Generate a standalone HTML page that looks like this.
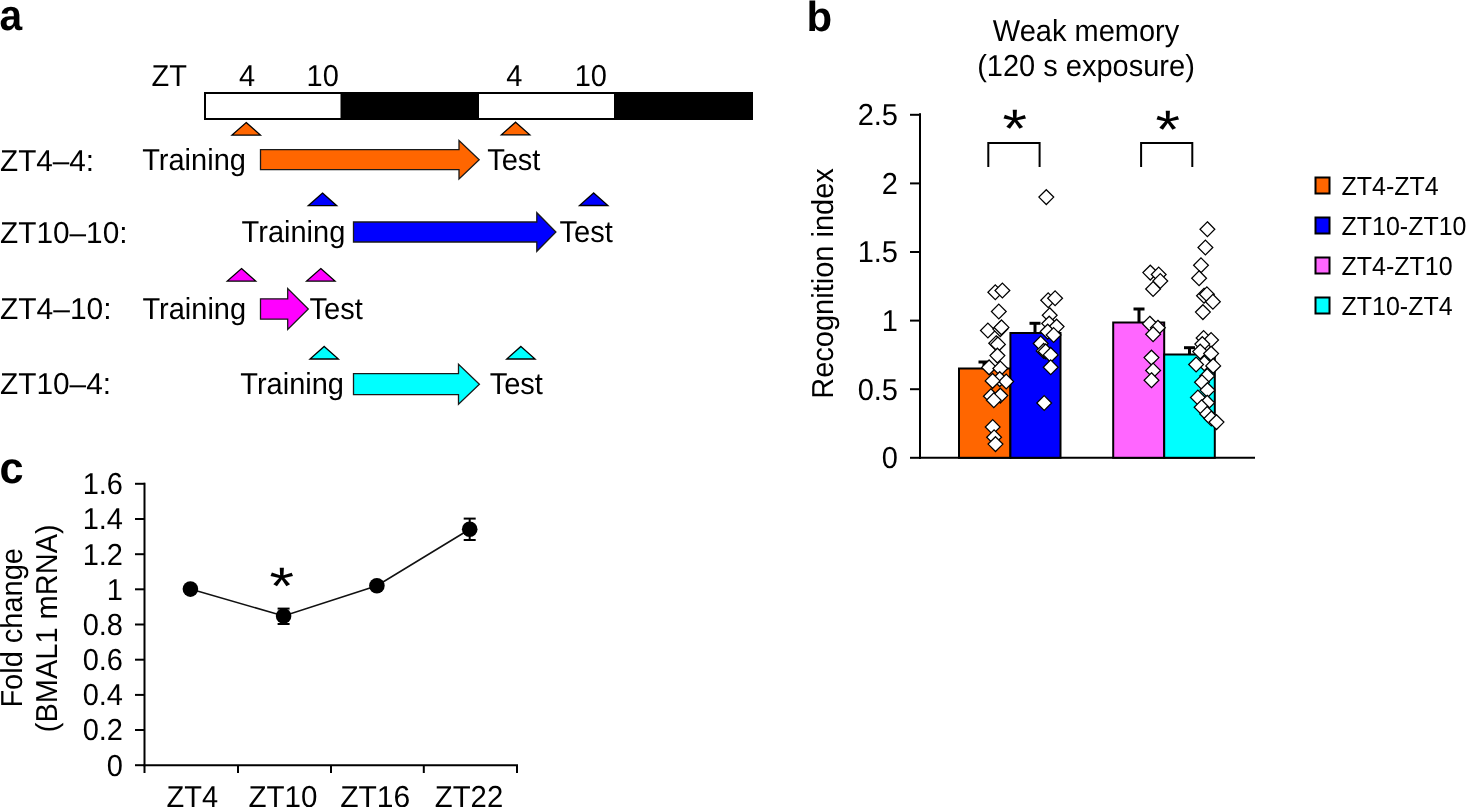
<!DOCTYPE html><html><head><meta charset="utf-8"><style>html,body{margin:0;padding:0;background:#fff;width:1466px;height:807px;overflow:hidden}svg{display:block;will-change:transform}</style></head><body>
<svg width="1466" height="807" viewBox="0 0 1466 807" style="font-family:'Liberation Sans',sans-serif;text-rendering:geometricPrecision">
<text transform="translate(-0.6,30.2) scale(0.97,1.03)" font-size="42" font-weight="bold">a</text>
<text transform="translate(151.6,86) scale(1.0,1.045)" font-size="29" >ZT</text>
<text transform="translate(239,86) scale(1.0,1.045)" font-size="29" >4</text>
<text transform="translate(306.5,86) scale(1.0,1.045)" font-size="29" >10</text>
<text transform="translate(506.2,86) scale(1.0,1.045)" font-size="29" >4</text>
<text transform="translate(574.7,86) scale(1.0,1.045)" font-size="29" >10</text>
<rect x="205" y="93" width="547" height="26" fill="#000" stroke="#000" stroke-width="2"/>
<rect x="205" y="93" width="136.5" height="26" fill="#fff" stroke="#000" stroke-width="2"/>
<rect x="478" y="93" width="137" height="26" fill="#fff" stroke="#000" stroke-width="2"/>
<polygon points="246.2,122.5 260.4,135.1 232.0,135.1" fill="#ff6600" stroke="#000" stroke-width="1.3" stroke-linejoin="miter"/>
<polygon points="515.6,122.2 529.8,134.8 501.4,134.8" fill="#ff6600" stroke="#000" stroke-width="1.3" stroke-linejoin="miter"/>
<text transform="translate(0,171) scale(1.024,1.045)" font-size="29" >ZT4–4:</text>
<text transform="translate(142.2,170) scale(1.0,1.045)" font-size="29" >Training</text>
<text transform="translate(487.2,170) scale(1.0,1.045)" font-size="29" >Test</text>
<polygon points="260.5,149.7 459.0,149.7 459.0,140.5 479.2,159.7 459.0,178.9 459.0,169.7 260.5,169.7" fill="#ff6600" stroke="#1a1a1a" stroke-width="1.3" stroke-linejoin="miter"/>
<polygon points="322.5,193.1 336.7,205.7 308.3,205.7" fill="#0000ff" stroke="#000" stroke-width="1.3" stroke-linejoin="miter"/>
<polygon points="593.7,192.9 607.9,205.5 579.5,205.5" fill="#0000ff" stroke="#000" stroke-width="1.3" stroke-linejoin="miter"/>
<text transform="translate(0,242.5) scale(1.027,1.045)" font-size="29" >ZT10–10:</text>
<text transform="translate(241.6,242) scale(1.0,1.045)" font-size="29" >Training</text>
<text transform="translate(559.6,242) scale(1.0,1.045)" font-size="29" >Test</text>
<polygon points="353.5,222.0 536.8,222.0 536.8,212.7 555.9,232.0 536.8,251.3 536.8,242.0 353.5,242.0" fill="#0000ff" stroke="#1a1a1a" stroke-width="1.3" stroke-linejoin="miter"/>
<polygon points="241.5,268.5 255.7,281.1 227.3,281.1" fill="#ff00ff" stroke="#000" stroke-width="1.3" stroke-linejoin="miter"/>
<polygon points="320.8,268.5 335.0,281.1 306.6,281.1" fill="#ff00ff" stroke="#000" stroke-width="1.3" stroke-linejoin="miter"/>
<text transform="translate(0,318.6) scale(1.033,1.045)" font-size="29" >ZT4–10:</text>
<text transform="translate(142.4,319) scale(1.0,1.045)" font-size="29" >Training</text>
<text transform="translate(309.6,319) scale(1.0,1.045)" font-size="29" >Test</text>
<polygon points="260.5,298.8 287.7,298.8 287.7,288.6 308.3,309.0 287.7,329.4 287.7,319.2 260.5,319.2" fill="#ff00ff" stroke="#1a1a1a" stroke-width="1.3" stroke-linejoin="miter"/>
<polygon points="324.2,346.4 338.4,359.0 310.0,359.0" fill="#00ffff" stroke="#000" stroke-width="1.3" stroke-linejoin="miter"/>
<polygon points="520.9,346.4 535.1,359.0 506.7,359.0" fill="#00ffff" stroke="#000" stroke-width="1.3" stroke-linejoin="miter"/>
<text transform="translate(0,394) scale(1.028,1.045)" font-size="29" >ZT10–4:</text>
<text transform="translate(240.3,394) scale(1.0,1.045)" font-size="29" >Training</text>
<text transform="translate(489.7,394) scale(1.0,1.045)" font-size="29" >Test</text>
<polygon points="353.5,373.7 458.5,373.7 458.5,364.2 479.4,384.2 458.5,404.2 458.5,394.7 353.5,394.7" fill="#00ffff" stroke="#1a1a1a" stroke-width="1.3" stroke-linejoin="miter"/>
<text x="806.5" y="30.5" font-size="42" font-weight="bold">b</text>
<text transform="translate(1086,41) scale(1.0,1.045)" font-size="29" text-anchor="middle">Weak memory</text>
<text transform="translate(1086,76.3) scale(1.0,1.045)" font-size="29" text-anchor="middle">(120 s exposure)</text>
<line x1="920" y1="113.3" x2="920" y2="458.8" stroke="#000" stroke-width="2"/>
<line x1="910" y1="457.8" x2="921" y2="457.8" stroke="#000" stroke-width="2"/>
<text transform="translate(898,468.1) scale(1.0,1.045)" font-size="29" text-anchor="end">0</text>
<line x1="910" y1="389.2" x2="921" y2="389.2" stroke="#000" stroke-width="2"/>
<text transform="translate(898,399.5) scale(1.0,1.045)" font-size="29" text-anchor="end">0.5</text>
<line x1="910" y1="320.6" x2="921" y2="320.6" stroke="#000" stroke-width="2"/>
<text transform="translate(898,330.9) scale(1.0,1.045)" font-size="29" text-anchor="end">1</text>
<line x1="910" y1="252.0" x2="921" y2="252.0" stroke="#000" stroke-width="2"/>
<text transform="translate(898,262.3) scale(1.0,1.045)" font-size="29" text-anchor="end">1.5</text>
<line x1="910" y1="183.4" x2="921" y2="183.4" stroke="#000" stroke-width="2"/>
<text transform="translate(898,193.7) scale(1.0,1.045)" font-size="29" text-anchor="end">2</text>
<line x1="910" y1="114.8" x2="921" y2="114.8" stroke="#000" stroke-width="2"/>
<text transform="translate(898,125.1) scale(1.0,1.045)" font-size="29" text-anchor="end">2.5</text>
<line x1="919" y1="457.8" x2="1255" y2="457.8" stroke="#000" stroke-width="2"/>
<text x="0" y="0" font-size="29" transform="translate(832.5,283.5) rotate(-90) scale(1,1.045)" text-anchor="middle">Recognition index</text>
<rect x="959" y="368.5" width="51.39999999999998" height="89.30000000000001" fill="#ff6600" stroke="#000" stroke-width="2"/>
<rect x="1010.4" y="333" width="50.10000000000002" height="124.80000000000001" fill="#0000ff" stroke="#000" stroke-width="2"/>
<rect x="1113.2" y="322.5" width="51.0" height="135.3" fill="#ff66ff" stroke="#000" stroke-width="2"/>
<rect x="1164.2" y="354.5" width="50.59999999999991" height="103.30000000000001" fill="#00ffff" stroke="#000" stroke-width="2"/>
<line x1="984" y1="362" x2="984" y2="368.5" stroke="#000" stroke-width="3"/><line x1="978.5" y1="362" x2="989.5" y2="362" stroke="#000" stroke-width="3"/>
<line x1="1035" y1="323.3" x2="1035" y2="333" stroke="#000" stroke-width="3"/><line x1="1029.5" y1="323.3" x2="1040.5" y2="323.3" stroke="#000" stroke-width="3"/>
<line x1="1139" y1="309" x2="1139" y2="322.5" stroke="#000" stroke-width="3"/><line x1="1133.5" y1="309" x2="1144.5" y2="309" stroke="#000" stroke-width="3"/>
<line x1="1189.5" y1="347.7" x2="1189.5" y2="354.5" stroke="#000" stroke-width="3"/><line x1="1184.0" y1="347.7" x2="1195.0" y2="347.7" stroke="#000" stroke-width="3"/>
<polygon points="995.3,284.9 1002.7,292.3 995.3,299.7 987.9,292.3" fill="#fff" stroke="#000" stroke-width="1.25"/>
<polygon points="1002.4,283.1 1009.8,290.5 1002.4,297.9 995.0,290.5" fill="#fff" stroke="#000" stroke-width="1.25"/>
<polygon points="998.8,304.1 1006.2,311.5 998.8,318.9 991.4,311.5" fill="#fff" stroke="#000" stroke-width="1.25"/>
<polygon points="987.9,323.1 995.3,330.5 987.9,337.9 980.5,330.5" fill="#fff" stroke="#000" stroke-width="1.25"/>
<polygon points="1000.3,321.7 1007.7,329.1 1000.3,336.5 992.9,329.1" fill="#fff" stroke="#000" stroke-width="1.25"/>
<polygon points="1001.5,320.0 1008.9,327.4 1001.5,334.8 994.1,327.4" fill="#fff" stroke="#000" stroke-width="1.25"/>
<polygon points="996.2,335.8 1003.6,343.2 996.2,350.6 988.8,343.2" fill="#fff" stroke="#000" stroke-width="1.25"/>
<polygon points="997.9,337.0 1005.3,344.4 997.9,351.8 990.5,344.4" fill="#fff" stroke="#000" stroke-width="1.25"/>
<polygon points="997.4,348.2 1004.8,355.6 997.4,363.0 990.0,355.6" fill="#fff" stroke="#000" stroke-width="1.25"/>
<polygon points="989.1,360.0 996.5,367.4 989.1,374.8 981.7,367.4" fill="#fff" stroke="#000" stroke-width="1.25"/>
<polygon points="1000.3,361.1 1007.7,368.5 1000.3,375.9 992.9,368.5" fill="#fff" stroke="#000" stroke-width="1.25"/>
<polygon points="999.7,371.7 1007.1,379.1 999.7,386.5 992.3,379.1" fill="#fff" stroke="#000" stroke-width="1.25"/>
<polygon points="1006.2,374.1 1013.6,381.5 1006.2,388.9 998.8,381.5" fill="#fff" stroke="#000" stroke-width="1.25"/>
<polygon points="992.6,373.5 1000.0,380.9 992.6,388.3 985.2,380.9" fill="#fff" stroke="#000" stroke-width="1.25"/>
<polygon points="990.9,388.8 998.3,396.2 990.9,403.6 983.5,396.2" fill="#fff" stroke="#000" stroke-width="1.25"/>
<polygon points="1000.3,388.2 1007.7,395.6 1000.3,403.0 992.9,395.6" fill="#fff" stroke="#000" stroke-width="1.25"/>
<polygon points="993.8,392.9 1001.2,400.3 993.8,407.7 986.4,400.3" fill="#fff" stroke="#000" stroke-width="1.25"/>
<polygon points="992.7,419.6 1000.1,427.0 992.7,434.4 985.3,427.0" fill="#fff" stroke="#000" stroke-width="1.25"/>
<polygon points="994.1,429.9 1001.5,437.3 994.1,444.7 986.7,437.3" fill="#fff" stroke="#000" stroke-width="1.25"/>
<polygon points="995.5,436.7 1002.9,444.1 995.5,451.5 988.1,444.1" fill="#fff" stroke="#000" stroke-width="1.25"/>
<polygon points="1046.3,189.7 1053.7,197.1 1046.3,204.5 1038.9,197.1" fill="#fff" stroke="#000" stroke-width="1.25"/>
<polygon points="1048.2,292.9 1055.6,300.3 1048.2,307.7 1040.8,300.3" fill="#fff" stroke="#000" stroke-width="1.25"/>
<polygon points="1055.1,290.9 1062.5,298.3 1055.1,305.7 1047.7,298.3" fill="#fff" stroke="#000" stroke-width="1.25"/>
<polygon points="1049.7,307.8 1057.1,315.2 1049.7,322.6 1042.3,315.2" fill="#fff" stroke="#000" stroke-width="1.25"/>
<polygon points="1049.2,316.2 1056.6,323.6 1049.2,331.0 1041.8,323.6" fill="#fff" stroke="#000" stroke-width="1.25"/>
<polygon points="1056.6,319.2 1064.0,326.6 1056.6,334.0 1049.2,326.6" fill="#fff" stroke="#000" stroke-width="1.25"/>
<polygon points="1047.7,324.2 1055.1,331.6 1047.7,339.0 1040.3,331.6" fill="#fff" stroke="#000" stroke-width="1.25"/>
<polygon points="1053.6,327.6 1061.0,335.0 1053.6,342.4 1046.2,335.0" fill="#fff" stroke="#000" stroke-width="1.25"/>
<polygon points="1040.7,336.1 1048.1,343.5 1040.7,350.9 1033.3,343.5" fill="#fff" stroke="#000" stroke-width="1.25"/>
<polygon points="1043.7,343.5 1051.1,350.9 1043.7,358.3 1036.3,350.9" fill="#fff" stroke="#000" stroke-width="1.25"/>
<polygon points="1045.7,344.0 1053.1,351.4 1045.7,358.8 1038.3,351.4" fill="#fff" stroke="#000" stroke-width="1.25"/>
<polygon points="1050.7,347.5 1058.1,354.9 1050.7,362.3 1043.3,354.9" fill="#fff" stroke="#000" stroke-width="1.25"/>
<polygon points="1050.7,359.9 1058.1,367.3 1050.7,374.7 1043.3,367.3" fill="#fff" stroke="#000" stroke-width="1.25"/>
<polygon points="1044.2,395.6 1051.6,403.0 1044.2,410.4 1036.8,403.0" fill="#fff" stroke="#000" stroke-width="1.25"/>
<polygon points="1150.3,265.2 1157.7,272.6 1150.3,280.0 1142.9,272.6" fill="#fff" stroke="#000" stroke-width="1.25"/>
<polygon points="1158.7,267.1 1166.1,274.5 1158.7,281.9 1151.3,274.5" fill="#fff" stroke="#000" stroke-width="1.25"/>
<polygon points="1160.3,273.6 1167.7,281.0 1160.3,288.4 1152.9,281.0" fill="#fff" stroke="#000" stroke-width="1.25"/>
<polygon points="1153.1,281.6 1160.5,289.0 1153.1,296.4 1145.7,289.0" fill="#fff" stroke="#000" stroke-width="1.25"/>
<polygon points="1149.8,316.3 1157.2,323.7 1149.8,331.1 1142.4,323.7" fill="#fff" stroke="#000" stroke-width="1.25"/>
<polygon points="1157.9,320.3 1165.3,327.7 1157.9,335.1 1150.5,327.7" fill="#fff" stroke="#000" stroke-width="1.25"/>
<polygon points="1153.1,326.8 1160.5,334.2 1153.1,341.6 1145.7,334.2" fill="#fff" stroke="#000" stroke-width="1.25"/>
<polygon points="1151.5,350.2 1158.9,357.6 1151.5,365.0 1144.1,357.6" fill="#fff" stroke="#000" stroke-width="1.25"/>
<polygon points="1153.1,363.1 1160.5,370.5 1153.1,377.9 1145.7,370.5" fill="#fff" stroke="#000" stroke-width="1.25"/>
<polygon points="1151.5,372.8 1158.9,380.2 1151.5,387.6 1144.1,380.2" fill="#fff" stroke="#000" stroke-width="1.25"/>
<polygon points="1207.4,221.8 1214.8,229.2 1207.4,236.6 1200.0,229.2" fill="#fff" stroke="#000" stroke-width="1.25"/>
<polygon points="1205.4,240.1 1212.8,247.5 1205.4,254.9 1198.0,247.5" fill="#fff" stroke="#000" stroke-width="1.25"/>
<polygon points="1201.0,257.9 1208.4,265.3 1201.0,272.7 1193.6,265.3" fill="#fff" stroke="#000" stroke-width="1.25"/>
<polygon points="1199.1,270.8 1206.5,278.2 1199.1,285.6 1191.7,278.2" fill="#fff" stroke="#000" stroke-width="1.25"/>
<polygon points="1204.0,288.3 1211.4,295.7 1204.0,303.1 1196.6,295.7" fill="#fff" stroke="#000" stroke-width="1.25"/>
<polygon points="1206.9,286.9 1214.3,294.3 1206.9,301.7 1199.5,294.3" fill="#fff" stroke="#000" stroke-width="1.25"/>
<polygon points="1212.9,294.3 1220.3,301.7 1212.9,309.1 1205.5,301.7" fill="#fff" stroke="#000" stroke-width="1.25"/>
<polygon points="1202.9,304.7 1210.3,312.1 1202.9,319.5 1195.5,312.1" fill="#fff" stroke="#000" stroke-width="1.25"/>
<polygon points="1203.6,330.6 1211.0,338.0 1203.6,345.4 1196.2,338.0" fill="#fff" stroke="#000" stroke-width="1.25"/>
<polygon points="1211.1,332.6 1218.5,340.0 1211.1,347.4 1203.7,340.0" fill="#fff" stroke="#000" stroke-width="1.25"/>
<polygon points="1202.3,336.7 1209.7,344.1 1202.3,351.5 1194.9,344.1" fill="#fff" stroke="#000" stroke-width="1.25"/>
<polygon points="1200.2,344.2 1207.6,351.6 1200.2,359.0 1192.8,351.6" fill="#fff" stroke="#000" stroke-width="1.25"/>
<polygon points="1211.1,346.2 1218.5,353.6 1211.1,361.0 1203.7,353.6" fill="#fff" stroke="#000" stroke-width="1.25"/>
<polygon points="1204.3,355.8 1211.7,363.2 1204.3,370.6 1196.9,363.2" fill="#fff" stroke="#000" stroke-width="1.25"/>
<polygon points="1196.1,357.1 1203.5,364.5 1196.1,371.9 1188.7,364.5" fill="#fff" stroke="#000" stroke-width="1.25"/>
<polygon points="1213.2,358.5 1220.6,365.9 1213.2,373.3 1205.8,365.9" fill="#fff" stroke="#000" stroke-width="1.25"/>
<polygon points="1207.2,368.6 1214.6,376.0 1207.2,383.4 1199.8,376.0" fill="#fff" stroke="#000" stroke-width="1.25"/>
<polygon points="1202.0,374.9 1209.4,382.3 1202.0,389.7 1194.6,382.3" fill="#fff" stroke="#000" stroke-width="1.25"/>
<polygon points="1207.5,382.7 1214.9,390.1 1207.5,397.5 1200.1,390.1" fill="#fff" stroke="#000" stroke-width="1.25"/>
<polygon points="1197.9,390.1 1205.3,397.5 1197.9,404.9 1190.5,397.5" fill="#fff" stroke="#000" stroke-width="1.25"/>
<polygon points="1207.2,395.3 1214.6,402.7 1207.2,410.1 1199.8,402.7" fill="#fff" stroke="#000" stroke-width="1.25"/>
<polygon points="1201.6,399.8 1209.0,407.2 1201.6,414.6 1194.2,407.2" fill="#fff" stroke="#000" stroke-width="1.25"/>
<polygon points="1207.2,406.5 1214.6,413.9 1207.2,421.3 1199.8,413.9" fill="#fff" stroke="#000" stroke-width="1.25"/>
<polygon points="1211.3,411.1 1218.7,418.5 1211.3,425.9 1203.9,418.5" fill="#fff" stroke="#000" stroke-width="1.25"/>
<polygon points="1216.5,414.7 1223.9,422.1 1216.5,429.5 1209.1,422.1" fill="#fff" stroke="#000" stroke-width="1.25"/>
<polyline points="988.3,167 988.3,143 1039.6,143 1039.6,167" fill="none" stroke="#000" stroke-width="2"/>
<polyline points="1141.1,167 1141.1,143 1192.3,143 1192.3,167" fill="none" stroke="#000" stroke-width="2"/>
<g transform="translate(1014.7,120.2) scale(1.05,0.9)"><text x="0" y="30.2" font-size="60" text-anchor="middle">*</text></g>
<g transform="translate(1167.7,120.4) scale(1.05,0.9)"><text x="0" y="30.2" font-size="60" text-anchor="middle">*</text></g>
<rect x="1315.5" y="177.5" width="14" height="16" fill="#ff6600" stroke="#000" stroke-width="2"/>
<text transform="translate(1341.5,194.8) scale(1.0,1.045)" font-size="25" >ZT4-ZT4</text>
<rect x="1315.5" y="217.5" width="14" height="16" fill="#0000ff" stroke="#000" stroke-width="2"/>
<text transform="translate(1341.5,234.8) scale(1.0,1.045)" font-size="25" >ZT10-ZT10</text>
<rect x="1315.5" y="257.5" width="14" height="16" fill="#ff66ff" stroke="#000" stroke-width="2"/>
<text transform="translate(1341.5,274.8) scale(1.0,1.045)" font-size="25" >ZT4-ZT10</text>
<rect x="1315.5" y="297.5" width="14" height="16" fill="#00ffff" stroke="#000" stroke-width="2"/>
<text transform="translate(1341.5,314.8) scale(1.0,1.045)" font-size="25" >ZT10-ZT4</text>
<text transform="translate(-0.5,482.6) scale(1.03,1.05)" font-size="42" font-weight="bold">c</text>
<line x1="144.5" y1="482.8" x2="144.5" y2="766.2" stroke="#000" stroke-width="2"/>
<line x1="135" y1="765.2" x2="145" y2="765.2" stroke="#000" stroke-width="2"/>
<text transform="translate(123,775.5) scale(1.0,1.045)" font-size="29" text-anchor="end">0</text>
<line x1="135" y1="730.0" x2="145" y2="730.0" stroke="#000" stroke-width="2"/>
<text transform="translate(123,740.3) scale(1.0,1.045)" font-size="29" text-anchor="end">0.2</text>
<line x1="135" y1="694.9" x2="145" y2="694.9" stroke="#000" stroke-width="2"/>
<text transform="translate(123,705.1) scale(1.0,1.045)" font-size="29" text-anchor="end">0.4</text>
<line x1="135" y1="659.7" x2="145" y2="659.7" stroke="#000" stroke-width="2"/>
<text transform="translate(123,670.0) scale(1.0,1.045)" font-size="29" text-anchor="end">0.6</text>
<line x1="135" y1="624.5" x2="145" y2="624.5" stroke="#000" stroke-width="2"/>
<text transform="translate(123,634.8) scale(1.0,1.045)" font-size="29" text-anchor="end">0.8</text>
<line x1="135" y1="589.3" x2="145" y2="589.3" stroke="#000" stroke-width="2"/>
<text transform="translate(123,599.6) scale(1.0,1.045)" font-size="29" text-anchor="end">1</text>
<line x1="135" y1="554.2" x2="145" y2="554.2" stroke="#000" stroke-width="2"/>
<text transform="translate(123,564.5) scale(1.0,1.045)" font-size="29" text-anchor="end">1.2</text>
<line x1="135" y1="519.0" x2="145" y2="519.0" stroke="#000" stroke-width="2"/>
<text transform="translate(123,529.3) scale(1.0,1.045)" font-size="29" text-anchor="end">1.4</text>
<line x1="135" y1="483.8" x2="145" y2="483.8" stroke="#000" stroke-width="2"/>
<text transform="translate(123,494.1) scale(1.0,1.045)" font-size="29" text-anchor="end">1.6</text>
<line x1="143.5" y1="765.2" x2="518" y2="765.2" stroke="#000" stroke-width="2"/>
<line x1="144.5" y1="765.2" x2="144.5" y2="773" stroke="#000" stroke-width="2"/>
<line x1="238" y1="765.2" x2="238" y2="773" stroke="#000" stroke-width="2"/>
<line x1="331" y1="765.2" x2="331" y2="773" stroke="#000" stroke-width="2"/>
<line x1="423.8" y1="765.2" x2="423.8" y2="773" stroke="#000" stroke-width="2"/>
<line x1="517" y1="765.2" x2="517" y2="773" stroke="#000" stroke-width="2"/>
<text transform="translate(192.4,806.6) scale(1.0,1.045)" font-size="29" text-anchor="middle">ZT4</text>
<text transform="translate(282.9,806.6) scale(1.02,1.045)" font-size="29" text-anchor="middle">ZT10</text>
<text transform="translate(375.2,806.6) scale(1.035,1.045)" font-size="29" text-anchor="middle">ZT16</text>
<text transform="translate(469,806.6) scale(1.01,1.045)" font-size="29" text-anchor="middle">ZT22</text>
<text x="0" y="0" font-size="29" transform="translate(22,627.8) rotate(-90) scale(1,1.045)" text-anchor="middle">Fold change</text>
<text x="0" y="0" font-size="29" transform="translate(56.8,628.3) rotate(-90) scale(1,1.045)" text-anchor="middle">(BMAL1 mRNA)</text>
<polyline points="190.4,589.1 283.6,616 376.9,585.7 469.7,529.2" fill="none" stroke="#111" stroke-width="1.6"/>
<circle cx="190.4" cy="589.1" r="7.8" fill="#000"/>
<circle cx="283.6" cy="616" r="7.8" fill="#000"/>
<circle cx="376.9" cy="585.7" r="7.8" fill="#000"/>
<circle cx="469.7" cy="529.2" r="7.8" fill="#000"/>
<line x1="283.6" y1="608.6" x2="283.6" y2="624" stroke="#000" stroke-width="2"/>
<line x1="277.6" y1="608.6" x2="289.6" y2="608.6" stroke="#000" stroke-width="2"/>
<line x1="277.6" y1="624" x2="289.6" y2="624" stroke="#000" stroke-width="2"/>
<line x1="469.7" y1="518.6" x2="469.7" y2="540" stroke="#000" stroke-width="2"/>
<line x1="463.7" y1="518.6" x2="475.7" y2="518.6" stroke="#000" stroke-width="2"/>
<line x1="463.7" y1="540" x2="475.7" y2="540" stroke="#000" stroke-width="2"/>
<g transform="translate(281.7,577.8) scale(1.05,0.88)"><text x="0" y="30.2" font-size="60" text-anchor="middle">*</text></g>
</svg></body></html>
